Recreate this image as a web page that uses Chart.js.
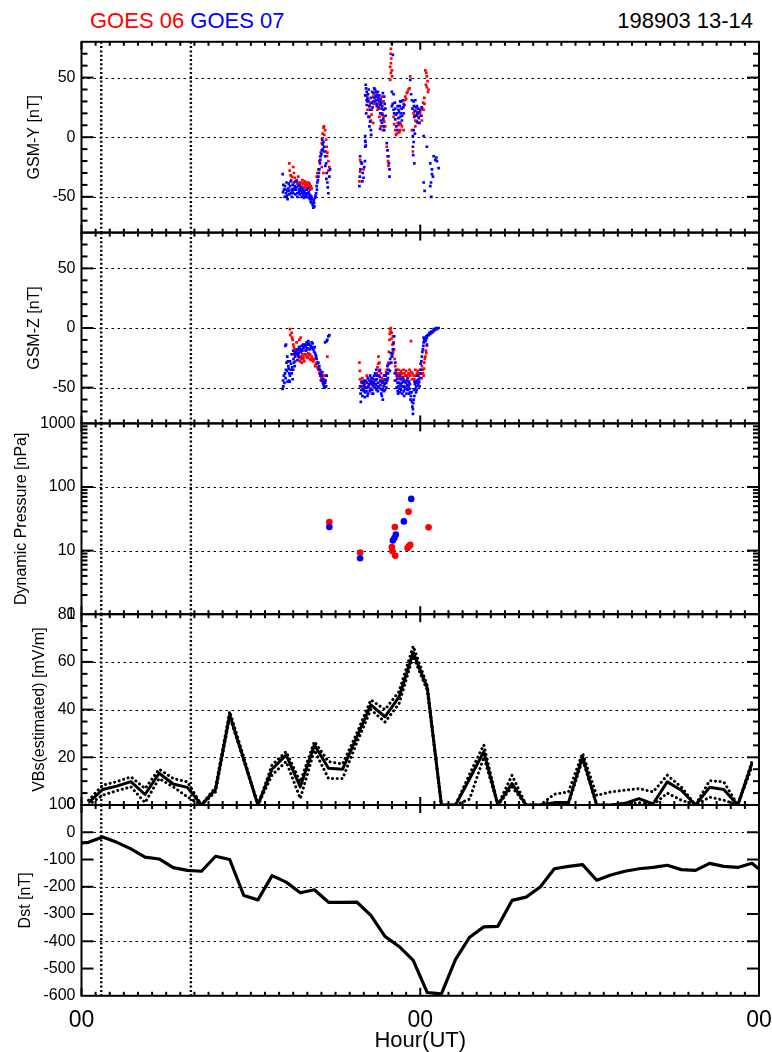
<!DOCTYPE html>
<html><head><meta charset="utf-8">
<script src="https://cdn.jsdelivr.net/npm/chart.js@4.4.1/dist/chart.umd.min.js"></script>
<style>
html,body{margin:0;padding:0;background:#fff;}
body{width:772px;height:1052px;position:relative;overflow:hidden;font-family:"Liberation Sans",Arial,sans-serif;}
canvas{position:absolute;left:0;}
.hdr{position:absolute;top:10px;font-size:22px;line-height:22px;white-space:pre;}
</style></head><body>
<div class="hdr" style="left:90px"><span style="color:#f00">GOES 06</span> <span style="color:#00f">GOES 07</span></div>
<div class="hdr" style="right:19px;color:#000">198903 13-14</div>
<canvas id="c0"></canvas><canvas id="c1"></canvas><canvas id="c2"></canvas><canvas id="c3"></canvas><canvas id="c4"></canvas>
<script>
// ---------------- DATA ----------------
// [hour since 13 Mar 00UT, value]
const g7GsmY = [[14.25,-31],[14.3,-40],[14.35,-44],[14.4,-50],[14.42,-41],[14.49,-47],[14.53,-38],[14.58,-45],[14.6,-52],[14.65,-43],[14.7,-45],[14.72,-48],[14.77,-41],[14.82,-37],[14.89,-44],[14.9,-50],[14.96,-40],[15.0,-47],[15.03,-43],[15.05,-38],[15.1,-44],[15.12,-41],[15.19,-44],[15.24,-37],[15.29,-47],[15.3,-50],[15.36,-41],[15.43,-44],[15.48,-48],[15.5,-42],[15.53,-45],[15.6,-50],[15.62,-46],[15.67,-47],[15.72,-48],[15.79,-45],[15.8,-50],[15.84,-47],[15.91,-48],[15.95,-44],[16.0,-50],[16.07,-47],[16.1,-46],[16.14,-48],[16.19,-52],[16.24,-54],[16.3,-50],[16.31,-55],[16.38,-57],[16.43,-59],[16.48,-55],[16.55,-51],[16.62,-47],[16.66,-41],[16.71,-38],[16.78,-33],[16.85,-27],[16.9,-22],[16.95,-16],[17.02,-11],[17.09,-6],[17.14,-4],[17.19,-8],[17.26,-16],[17.33,-22],[17.37,-30],[17.42,-38],[17.49,-47],[17.56,-33],[17.61,-27],
[14.28,-46],[14.45,-44],[14.55,-49],[14.68,-39],[14.85,-47],[14.95,-45],[15.15,-48],[15.22,-42],[15.4,-46],[15.45,-40],[15.58,-43],[15.7,-44],[15.75,-51],[15.88,-50],[15.98,-47],[16.05,-43],[16.12,-51],[16.22,-49],[16.35,-52],[16.45,-53],[16.5,-58],[16.58,-49],[16.68,-44],[16.75,-36],[16.82,-30],[16.92,-19],[17.0,-14],[17.05,-2],[17.1,-10],[17.2,-12],[17.28,-24],[17.35,-35],[17.45,-42],
[19.69,-41],[19.72,-33],[19.74,-16],[19.76,-27],[19.8,-21],[19.86,-22],[19.9,-37],[19.93,-30],[19.98,-34],[20.03,-25],[20.08,-20],[20.1,1],[20.12,-4],[20.14,-7],
[20.14,44],[20.16,41],[20.21,38],[20.1,35],[20.26,33],[20.33,30],[20.21,27],[20.4,26],[20.45,23],[20.17,20],[20.33,17],[20.45,13],[20.4,9],[20.5,6],[20.52,2],[20.1,-3],[20.1,-8],
[20.69,37],[20.74,41],[20.8,40],[20.88,34],[20.92,31],[20.97,35],[21.04,33],[21.11,30],[20.8,30],[20.69,30],[21.16,27],[20.92,26],[21.28,24],[21.4,23],[21.52,24],[21.45,34],[21.35,37],[21.16,20],[21.21,14],[21.28,12],[21.4,9],[21.45,6],[21.16,7],
[20.2,31],[20.3,36],[20.35,40],[20.5,33],[20.55,29],[20.6,38],[20.62,25],[20.75,33],[20.85,38],[20.9,28],[21.0,38],[21.05,25],[21.1,35],[21.2,32],[21.25,29],[21.3,26],[21.32,19],[21.38,15],[21.48,28],[21.55,18],
[21.63,-5],[21.68,-11],[21.75,-16],[21.78,-22],[21.82,-27],[21.82,-33],
[21.99,79],[22.06,69],[21.99,38],[22.11,36],
[21.99,26],[22.11,23],[22.23,24],[22.34,20],[22.46,23],[22.58,17],[22.7,14],[22.3,9],[22.39,6],[22.53,12],[22.82,20],[22.23,15],[22.65,30],[22.58,30],[22.76,31],
[22.05,28],[22.15,20],[22.2,29],[22.28,19],[22.4,26],[22.45,16],[22.5,21],[22.55,26],[22.62,20],[22.68,24],[22.72,18],[22.8,25],[22.88,27],
[23.29,48],[23.41,31],[23.53,30],[23.65,31],[23.76,26],[23.88,21],[24.0,23],[23.58,17],[23.76,13],[23.95,12],[23.53,6],[23.48,1],[23.53,-4],[23.48,-8],[23.58,-22],
[23.35,36],[23.45,24],[23.55,26],[23.6,22],[23.7,25],[23.72,18],[23.8,20],[23.85,24],[23.9,16],[24.05,18],[24.1,25],[23.62,3],[23.5,-15],
[24.24,1],[24.47,-8],[24.24,-38],[24.31,-45],[24.71,-22],[24.83,-27],[24.9,-33],[24.76,-38],[24.71,-41],[24.78,-50],[24.95,-16],[25.07,-19],[25.14,-17],[25.18,-20],[25.3,-26],[24.83,-31]];

const g6GsmY = [[14.72,-22],[14.82,-32],[14.91,-33],[15.0,-25],[15.1,-34],[15.24,-36],[15.36,-33],[15.43,-38],[15.5,-40],[15.6,-41],[15.7,-42],[15.72,-39],[15.8,-37],[15.84,-40],[15.91,-41],[16.0,-40],[16.03,-43],[16.07,-38],[16.1,-42],[16.19,-41],[16.2,-44],[16.31,-43],[16.66,-33],[16.78,-27],[16.9,-16],[16.95,-13],[17.02,-5],[17.09,3],[17.14,8],[17.18,9],[17.26,6],[17.33,-2],[17.37,-8],[17.42,-13],[17.49,-20],[17.56,-25],[17.14,-30],[17.02,-25],[17.3,-12],
[14.75,-28],[14.86,-36],[15.05,-30],[15.15,-37],[15.3,-39],[15.55,-38],[15.65,-36],[15.77,-42],[15.88,-38],[15.98,-43],[16.15,-39],[16.25,-41],[16.7,-30],[16.85,-20],[17.05,-1],[17.2,2],[17.4,-16],[17.5,-28],
[19.69,-37],[19.74,-29],[19.86,-22],[19.98,-27],[19.74,-19],
[20.21,35],[20.33,31],[20.45,28],[20.26,23],[20.57,23],[20.4,17],[20.5,14],[20.66,12],
[20.66,34],[20.8,35],[20.92,37],[21.04,28],[21.16,31],[21.28,34],[21.4,30],[20.97,23],[21.11,17],[21.21,9],[21.35,6],[21.52,9],[21.4,17],
[20.25,30],[20.38,26],[20.55,19],[20.7,28],[20.85,31],[21.0,32],[21.08,24],[21.2,28],[21.3,20],[21.45,13],
[21.63,-8],[21.68,-16],[21.72,-20],[21.75,-24],
[21.92,74],[21.92,62],[21.87,59],[21.99,56],[21.92,54],[21.87,48],[22.01,51],[21.95,66],[21.9,70],
[22.11,17],[22.23,6],[22.34,3],[22.46,10],[22.58,6],[22.7,9],[22.82,6],[22.15,11],[22.28,2],[22.4,12],[22.52,4],[22.62,11],
[22.82,28],[22.94,34],[23.05,37],[23.17,40],[23.24,41],[23.29,51],[22.9,31],[23.0,32],[23.1,38],
[23.53,20],[23.65,14],[23.76,19],[23.88,17],[24.0,21],[24.12,14],[24.24,23],[24.29,33],[24.2,29],[23.65,9],[23.41,6],[23.48,-12],
[23.6,18],[23.7,22],[23.82,12],[23.95,20],[24.08,18],[24.15,24],[24.3,28],
[24.36,56],[24.43,54],[24.47,51],[24.47,42],[24.59,40],[24.4,44],[24.52,47],[24.55,38]];

const g7GsmZ = [[14.25,-51],[14.3,-49],[14.34,-40],[14.42,-38],[14.49,-35],[14.53,-29],[14.44,-15],[14.49,-14],[14.58,-24],[14.65,-32],[14.72,-38],[14.77,-40],[14.82,-35],[14.89,-38],[14.96,-43],[15.0,-35],[15.05,-29],[15.13,-24],[15.2,-21],[15.24,-22],[15.36,-18],[15.43,-24],[15.48,-19],[15.6,-15],[15.72,-17],[15.84,-14],[15.95,-12],[16.07,-11],[16.14,-14],[16.19,-18],[16.24,-15],[16.31,-12],[16.43,-18],[16.55,-21],[16.66,-26],[16.78,-29],[16.85,-32],[16.9,-35],[16.95,-38],[17.02,-40],[17.09,-43],[17.14,-47],[17.18,-49],[17.26,-46],[17.33,-49],[17.37,-40],[17.26,-12],[17.37,-11],[17.49,-7],[17.56,-6],[17.42,-10],[14.77,-28],[14.89,-22],[15.0,-19],[14.6,-45],[14.7,-44],[15.1,-32],[15.3,-27],[15.55,-20],[15.9,-16],[16.35,-16],[16.6,-23],
[14.28,-44],[14.38,-46],[14.46,-42],[14.56,-36],[14.62,-28],[14.68,-34],[14.75,-45],[14.85,-30],[14.93,-33],[15.02,-26],[15.08,-22],[15.17,-20],[15.28,-18],[15.33,-23],[15.4,-21],[15.45,-16],[15.52,-18],[15.65,-19],[15.7,-14],[15.78,-15],[15.88,-19],[16.0,-14],[16.04,-17],[16.1,-13],[16.28,-17],[16.38,-13],[16.48,-20],[16.52,-16],[16.62,-24],[16.7,-30],[16.82,-34],[16.92,-40],[17.0,-44],[17.06,-37],[17.12,-45],[17.22,-50],[17.3,-44],
[19.74,-49],[19.79,-62],[19.86,-46],[19.93,-51],[19.98,-49],[20.05,-44],[20.1,-54],[20.17,-50],[20.21,-46],[20.26,-57],[20.33,-49],[20.4,-44],[20.45,-40],[20.5,-51],[20.57,-47],[20.64,-43],[20.69,-49],[20.73,-40],[20.8,-38],[20.88,-35],[20.92,-43],[20.97,-49],[21.04,-40],[21.11,-36],[21.16,-44],[21.21,-51],[21.28,-57],[21.35,-60],[21.4,-49],[21.44,-40],[21.52,-43],[21.59,-46],[21.63,-38],[21.68,-32],[21.75,-35],[21.87,-26],[21.92,-21],[21.99,-24],[22.06,-18],[22.11,-13],[22.15,-7],[22.23,-29],[22.3,-35],[22.34,-40],[22.39,-46],[22.46,-49],[22.53,-51],[22.58,-40],[22.63,-43],[22.7,-46],[22.77,-42],[22.82,-49],[22.86,-57],[22.94,-51],[23.05,-44],[23.17,-49],[23.24,-51],[23.29,-54],[23.34,-57],[23.41,-62],[23.48,-68],[23.48,-72],[23.53,-60],[23.58,-57],[23.65,-51],[23.72,-49],[23.76,-46],[23.81,-40],[23.88,-43],[23.95,-49],[24.0,-38],[24.05,-35],[24.12,-24],[24.19,-18],[24.24,-12],[24.29,-10],[24.36,-11],[24.43,-7],[24.47,-8],[24.59,-6],[24.71,-5],[24.83,-4],[24.9,-3],[24.95,-1],[25.07,-1],[25.18,-1],[25.3,0],[24.24,-8],[24.47,-14],
[20.0,-53],[20.3,-42],[20.6,-52],[20.85,-47],[21.0,-53],[21.3,-46],[21.5,-52],[21.7,-42],[22.4,-53],[22.65,-52],[22.9,-45],[23.1,-52],[23.2,-45],[23.6,-45],[23.7,-54],
[19.77,-55],[19.83,-52],[19.9,-57],[19.95,-45],[20.02,-47],[20.07,-58],[20.13,-45],[20.19,-53],[20.24,-50],[20.3,-55],[20.37,-47],[20.42,-53],[20.48,-45],[20.54,-42],[20.6,-45],[20.66,-55],[20.71,-46],[20.78,-50],[20.83,-44],[20.9,-52],[20.95,-40],[21.02,-46],[21.07,-50],[21.13,-41],[21.18,-48],[21.24,-55],[21.3,-52],[21.37,-45],[21.42,-53],[21.48,-47],[21.55,-40],[21.6,-50],[21.66,-44],[21.72,-38],[21.8,-30],[21.85,-36],[21.95,-29],[22.02,-22],[22.2,-38],[22.26,-44],[22.32,-50],[22.37,-43],[22.43,-55],[22.5,-46],[22.55,-54],[22.6,-47],[22.67,-49],[22.73,-55],[22.8,-45],[22.84,-53],[22.9,-50],[22.97,-46],[23.02,-55],[23.08,-48],[23.13,-42],[23.2,-55],[23.27,-47],[23.31,-60],[23.38,-54],[23.44,-66],[23.5,-63],[23.55,-52],[23.62,-47],[23.68,-45],[23.75,-52],[23.79,-44],[23.85,-48],[23.92,-45],[23.98,-42],[24.03,-30],[24.08,-28],[24.15,-20],[24.22,-15],[24.33,-9],[24.4,-10],[24.52,-6],[24.65,-4],[24.77,-3],[25.0,-2],[25.12,0]];

const g6GsmZ = [[14.77,-1],[14.89,-4],[14.96,-10],[15.0,-14],[15.13,-18],[15.24,-21],[15.36,-24],[15.48,-28],[15.6,-29],[15.72,-26],[15.84,-22],[15.91,-19],[15.95,-24],[16.07,-21],[16.19,-26],[16.31,-24],[16.43,-28],[16.55,-32],[16.66,-29],[16.78,-35],[16.9,-36],[17.02,-39],[17.09,-42],[17.18,-43],[17.26,-40],[17.42,-24],[15.43,-10],[15.53,-8],[15.13,-28],[15.24,-12],[15.72,-24],[15.1,-20],[15.4,-16],[15.65,-22],[16.0,-18],[16.2,-22],[16.5,-26],[16.95,-44],[17.1,-46],
[14.8,-6],[14.92,-8],[15.05,-16],[15.18,-22],[15.3,-20],[15.45,-25],[15.55,-26],[15.62,-24],[15.78,-28],[15.88,-22],[16.02,-25],[16.12,-23],[16.25,-27],[16.38,-26],[16.6,-31],[16.72,-33],[16.85,-38],[17.0,-42],[17.15,-45],[17.22,-40],
[19.69,-29],[19.74,-43],[19.79,-49],[19.98,-46],[20.1,-50],[20.21,-40],[20.33,-49],[20.45,-51],[20.57,-55],[20.69,-46],[20.8,-43],[20.92,-38],[21.04,-24],[21.11,-29],[21.16,-35],[21.28,-42],[21.4,-46],[21.52,-40],[21.63,-35],[21.75,-29],[21.82,-10],[21.87,-1],[21.92,0],[21.99,-4],[22.06,-7],[22.11,-12],[22.15,-18],[21.99,-24],[22.23,-32],[22.34,-38],[22.46,-40],[22.58,-43],[22.7,-38],[22.82,-35],[22.94,-40],[23.05,-40],[23.17,-38],[23.24,-35],[23.34,-11],[23.29,-40],[23.41,-43],[23.53,-40],[23.65,-35],[23.76,-38],[23.88,-40],[24.0,-35],[24.12,-32],[24.19,-38],[24.24,-40],[24.29,-29],[24.36,-24],[24.43,-21],[24.47,-15],[22.82,-43],[23.05,-49],[23.17,-46],[22.46,-35],
[20.0,-52],[20.6,-48],[21.2,-45],[21.6,-44],[22.2,-44],[22.6,-38],[23.9,-46],[24.1,-42],
[19.72,-36],[19.82,-45],[19.9,-42],[20.05,-48],[20.15,-45],[20.28,-43],[20.38,-47],[20.5,-46],[20.62,-42],[20.75,-48],[20.85,-40],[20.97,-33],[21.02,-30],[21.08,-36],[21.22,-38],[21.34,-44],[21.46,-43],[21.58,-37],[21.7,-31],[21.78,-20],[21.84,-5],[21.9,-3],[21.96,-9],[22.03,-14],[22.08,-20],[22.18,-26],[22.27,-36],[22.38,-42],[22.5,-38],[22.54,-41],[22.64,-36],[22.75,-41],[22.88,-38],[23.0,-36],[23.1,-42],[23.22,-39],[23.36,-37],[23.45,-38],[23.58,-43],[23.7,-40],[23.82,-36],[23.94,-38],[24.05,-38],[24.16,-35],[24.27,-34],[24.32,-26],[24.4,-19]];

const g6Pdyn = [[17.56,28],[19.74,9.3],[22.2,23.5],[21.99,11.4],[22.03,9.8],[22.23,8.3],[23.17,41],[23.1,11],[23.29,12.3],[23.2,11.7],[24.59,23.2]];
const g7Pdyn = [[17.56,23.5],[19.74,7.6],[22.27,17.8],[22.17,15.8],[22.06,14.4],[22.84,28.8],[23.36,65]];

const vbsHours = [0.5,1.5,2.5,3.5,4.5,5.5,6.5,7.5,8.5,9.5,10.5,11.5,12.5,13.5,14.5,15.5,16.5,17.5,18.5,19.5,20.5,21.5,22.5,23.5,24.5,25.5,26.5,27.5,28.5,29.5,30.5,31.5,32.5,33.5,34.5,35.5,36.5,37.5,38.5,39.5,40.5,41.5,42.5,43.5,44.5,45.5,46.5,47.5];
const vbsEst   = [1,6.5,7.9,9.8,4.4,13.3,8.8,7.4,0,6.6,37.8,19,0,15,21,7.6,25.2,15.4,15,28.4,42,37,45.3,64,49,0,0,11,22.4,0,9,0,0,1,1,20.3,0,0,0.7,2.7,0.5,9.7,6.2,0,7.4,6.5,0,17.5];
const vbsUpper = [2,8.3,9.8,11.8,6.9,15,11.1,9.7,0,7.5,39.2,20,0,16.8,22.4,9.7,26.6,18.2,17.2,30,44.1,40,47.6,66.6,50,0,0,13,25.2,0,12.5,0,0,4.5,5.5,21.7,4,5.5,6.2,6.9,5.5,12.5,7.5,0,10.2,9.7,0,18.2];
const vbsLower = [0,4.1,6,7.6,1,11.1,7.6,3.4,0,5.5,37,18.5,0,12.6,18.2,2.7,23,11.1,11.1,26,40,34.8,42.5,62.4,48,0,0,2.5,20,0,7.5,0,0,0.5,0.5,19,0,0,0,1,0,5,2,0,3.3,2,0,16];

const dstHours  = [0,0.5,1.5,2.5,3.5,4.5,5.5,6.5,7.5,8.5,9.5,10.5,11.5,12.5,13.5,14.5,15.5,16.5,17.5,18.5,19.5,20.5,21.5,22.5,23.5,24.5,25.5,26.5,27.5,28.5,29.5,30.5,31.5,32.5,33.5,34.5,35.5,36.5,37.5,38.5,39.5,40.5,41.5,42.5,43.5,44.5,45.5,46.5,47.5,48];
const dstValues = [-39,-37,-17,-37,-61,-91,-98,-130,-140,-143,-88,-100,-232,-248,-159,-183,-222,-211,-257,-257,-256,-305,-382,-419,-470,-588,-593,-466,-385,-347,-345,-250,-238,-201,-134,-125,-119,-176,-157,-143,-134,-129,-121,-137,-140,-114,-125,-129,-114,-135];

// vertical dotted marker lines (hours)
const eventHours = [1.4, 7.75];

// tick labels / values
const gsmLabels  = [-50, 0, 50];
const gsmMinor   = [-70,-60,-40,-30,-20,-10,10,20,30,40,60,70];
const pdynLabels = [1, 10, 100, 1000];
const pdynMinor  = [2,3,4,5,6,7,8,9,20,30,40,50,60,70,80,90,200,300,400,500,600,700,800,900];
const vbsLabels  = [0, 20, 40, 60, 80];
const vbsMinor   = [5,10,15,25,30,35,45,50,55,65,70,75];
const dstLabels  = [100, 0, -100, -200, -300, -400, -500, -600];
const hourLabelVals = [0, 24, 48];
const hourLabels = ['00', '00', '00'];

// ---------------- DRAWING ----------------
const FONT = '"Liberation Sans", Arial, sans-serif';
const PLOT_L = 81.5, PLOT_R = 759, TOP0 = 41.8, PH = 190.8, PAGE_H = 1052;
const hourMinor = []; for (let h = 1; h < 48; h++) if (h !== 24) hourMinor.push(h);

const xy = arr => arr.map(p => ({x: p[0], y: p[1]}));
const zipXY = (xs, ys) => xs.map((x, i) => ({x, y: ys[i]}));

function scatterDs(data, color, r, style) {
  return {data: xy(data), backgroundColor: color, borderWidth: 0, pointRadius: r, pointHoverRadius: r, pointStyle: style || 'circle', showLine: false};
}
function lineDs(xs, ys, width, dash) {
  return {data: zipXY(xs, ys), showLine: true, borderColor: '#000', borderWidth: width, pointRadius: 0,
          borderDash: dash || [], borderCapStyle: dash ? 'round' : 'butt', borderJoinStyle: 'round', tension: 0, fill: false};
}

const panels = [
  {title: 'GSM-Y [nT]', titleX: 35, type: 'linear', min: -80, max: 80, labels: gsmLabels, major: gsmLabels, minor: gsmMinor, grid: [-50,0,50],
   datasets: [scatterDs(g7GsmY, '#0000ff', 1.9, 'rect'), scatterDs(g6GsmY, '#ff0000', 1.9, 'rect')]},
  {title: 'GSM-Z [nT]', titleX: 35, type: 'linear', min: -80, max: 80, labels: gsmLabels, major: gsmLabels, minor: gsmMinor, grid: [-50,0,50],
   datasets: [scatterDs(g7GsmZ, '#0000ff', 1.9, 'rect'), scatterDs(g6GsmZ, '#ff0000', 1.9, 'rect')]},
  {title: 'Dynamic Pressure [nPa]', titleX: 21.5, type: 'logarithmic', min: 1, max: 1000, labels: pdynLabels, major: [10,100], minor: pdynMinor, grid: [10,100],
   datasets: [scatterDs(g7Pdyn, '#0000ff', 3.3), scatterDs(g6Pdyn, '#ff0000', 3.3)]},
  {title: 'VBs(estimated) [mV/m]', titleX: 40, type: 'linear', min: 0, max: 80, labels: vbsLabels, major: [20,40,60], minor: vbsMinor, grid: [20,40,60],
   datasets: [lineDs(vbsHours, vbsEst, 3), lineDs(vbsHours, vbsUpper, 3, [0.1, 4.6]), lineDs(vbsHours, vbsLower, 3, [0.1, 4.6])]},
  {title: 'Dst [nT]', titleX: 26, type: 'linear', min: -600, max: 100, labels: dstLabels, major: [0,-100,-200,-300,-400,-500], minor: [], grid: [0,-200,-400],
   datasets: [lineDs(dstHours, dstValues, 3.2)]}
];

function framePlugin(def) {
  const seg = (ctx, x1, y1, x2, y2) => { ctx.beginPath(); ctx.moveTo(x1, y1); ctx.lineTo(x2, y2); ctx.stroke(); };
  return {
    id: 'frame',
    beforeDatasetsDraw(chart) {
      const {ctx, chartArea: a, scales: {x, y}} = chart;
      ctx.save();
      ctx.beginPath(); ctx.rect(a.left, a.top, a.right - a.left, a.bottom - a.top); ctx.clip();
      ctx.strokeStyle = '#000'; ctx.lineWidth = 1; ctx.setLineDash([2.5, 3.5]);
      for (const v of def.grid) { const py = Math.round(y.getPixelForValue(v)) + 0.5; seg(ctx, a.left, py, a.right, py); }
      ctx.lineWidth = 2.4; ctx.setLineDash([2, 2.3]);
      for (const h of eventHours) { const px = x.getPixelForValue(h); seg(ctx, px, a.top, px, a.bottom); }
      ctx.restore();
    },
    afterDatasetsDraw(chart) {
      const {ctx, chartArea: a, scales: {x, y}} = chart;
      ctx.save();
      ctx.strokeStyle = '#000'; ctx.setLineDash([]); ctx.lineWidth = 2;
      for (const v of def.major) { const py = y.getPixelForValue(v); seg(ctx, a.left, py, a.left + 12, py); seg(ctx, a.right, py, a.right - 12, py); }
      for (const v of def.minor) { const py = y.getPixelForValue(v); seg(ctx, a.left, py, a.left + 6, py); seg(ctx, a.right, py, a.right - 6, py); }
      for (const h of hourMinor) { const px = x.getPixelForValue(h); seg(ctx, px, a.top, px, a.top + 4); seg(ctx, px, a.bottom, px, a.bottom - 4); }
      for (const h of hourLabelVals) { const px = x.getPixelForValue(h); seg(ctx, px, a.top, px, a.top + 8); seg(ctx, px, a.bottom, px, a.bottom - 8); }
      ctx.lineWidth = 2;
      ctx.strokeRect(a.left, a.top, a.right - a.left, a.bottom - a.top);
      ctx.restore();
    }
  };
}

panels.forEach((def, i) => {
  const top = TOP0 + i * PH, bottom = top + PH;
  const last = i === panels.length - 1;
  const cTop = Math.floor(top) - 14;
  const cBottom = last ? PAGE_H : Math.ceil(bottom) + 14;
  const H = cBottom - cTop;
  const cv = document.getElementById('c' + i);
  cv.width = 772; cv.height = H;
  cv.style.top = cTop + 'px'; cv.style.width = '772px'; cv.style.height = H + 'px';
  const xAxisH = last ? cBottom - bottom : 0;
  const lineH = 19.2;
  new Chart(cv, {
    type: 'scatter',
    data: {datasets: def.datasets},
    options: {
      responsive: false, animation: false, devicePixelRatio: 1, events: [],
      layout: {padding: {left: 0, right: 772 - PLOT_R, top: top - cTop, bottom: last ? 0 : cBottom - bottom}},
      plugins: {legend: {display: false}, tooltip: {enabled: false}, title: {display: false}},
      scales: {
        x: {
          type: 'linear', min: 0, max: 48, display: last, position: 'bottom',
          grid: {display: false, drawTicks: false}, border: {display: false},
          afterBuildTicks: s => { s.ticks = hourLabelVals.map(v => ({value: v})); },
          afterFit: s => { s.height = xAxisH; s.paddingLeft = 0; s.paddingRight = 0; },
          ticks: {autoSkip: false, maxRotation: 0, minRotation: 0, padding: 11, color: '#000',
                  font: {family: FONT, size: 23}, callback: (v, idx) => hourLabels[idx]},
          title: {display: true, text: 'Hour(UT)', color: '#000', font: {family: FONT, size: 22, lineHeight: 1}, padding: {top: 0, bottom: 0}}
        },
        y: {
          type: def.type, min: def.min, max: def.max, position: 'left',
          grid: {display: false, drawTicks: false}, border: {display: false},
          afterBuildTicks: s => { s.ticks = def.labels.map(v => ({value: v})); },
          afterFit: s => { s.width = PLOT_L; s.paddingTop = 0; s.paddingBottom = 0; },
          ticks: {autoSkip: false, padding: 6, color: '#000', font: {family: FONT, size: 16}, callback: v => String(v)},
          title: {display: true, text: def.title, color: '#000', font: {family: FONT, size: 16, lineHeight: 1.2},
                  padding: {top: def.titleX - lineH / 2, bottom: 0}}
        }
      }
    },
    plugins: [framePlugin(def)]
  });
});
</script></body></html>
